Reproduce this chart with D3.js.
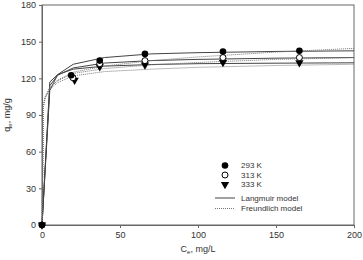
<!DOCTYPE html>
<html>
<head>
<meta charset="utf-8">
<script src="https://cdn.jsdelivr.net/npm/d3@7"></script>
<style>
  body { margin: 0; background: #fff; }
  text { font-family: Arial, "Liberation Sans", sans-serif; fill: #333; }
</style>
</head>
<body>
<script>
// measured points (Ce, qe)
var ce293 = [0, 18.7, 37, 66, 116, 165];
var qe293 = [0, 122.5, 134.5, 140, 142, 142.5];
var ce313 = [0, 19.8, 37, 66, 116, 165];
var qe313 = [0, 120.5, 132, 134.5, 137, 137];
var ce333 = [0, 20.9, 37, 66, 116, 165];
var qe333 = [0, 118.5, 129.5, 131, 133, 132.8];

// model lines
var ceLang = [0, 5, 10, 20, 40, 70, 100, 150, 200];
var lang293 = [0, 110, 123, 131.5, 137, 140, 141, 142, 142.5];
var lang313 = [0, 114, 122.5, 128.5, 132.5, 134.5, 135.5, 136.5, 137];
var lang333 = [0, 117, 123, 127.5, 130, 131.3, 132, 132.4, 132.7];

var ceFr = [0, 1, 2, 5, 10, 20, 40, 70, 100, 150, 200];
var fr293 = [0, 97, 104, 112, 118.5, 125, 130, 134.5, 137.5, 141.5, 144.5];
var fr313 = [0, 99, 105, 112.5, 118, 124, 128, 131, 133, 135.5, 137];
var fr333 = [0, 98, 104, 111, 116.5, 122, 125.5, 127.5, 129, 130.5, 131.5];

var xTicks = [0, 50, 100, 150, 200];
var yTicks = [0, 30, 60, 90, 120, 150, 180];

var margin = {top: 5, right: 9, bottom: 35, left: 42},
    width = 363 - margin.left - margin.right,
    height = 260 - margin.top - margin.bottom;

var x = d3.scaleLinear().domain([0, 200]).range([0, width]);
var y = d3.scaleLinear().domain([0, 180]).range([height, 0]);

var svg = d3.select("body").append("svg")
    .attr("width", 363)
    .attr("height", 260);
var g = svg.append("g")
    .attr("transform", "translate(" + margin.left + "," + margin.top + ")");

// frame
g.append("rect")
    .attr("width", width).attr("height", height)
    .attr("fill", "none").attr("stroke", "#666").attr("stroke-width", 1);

// axes
var xAxis = g.append("g")
    .attr("transform", "translate(0," + height + ")")
    .call(d3.axisBottom(x).tickValues(xTicks).tickSize(3).tickPadding(4));
var yAxis = g.append("g")
    .call(d3.axisLeft(y).tickValues(yTicks).tickSize(3).tickPadding(3));
[xAxis, yAxis].forEach(function (a) {
    a.select(".domain").attr("stroke", "#666");
    a.selectAll(".tick line").attr("stroke", "#666");
    a.selectAll("text").style("font-size", "9px").attr("fill", "#333");
});

// lines
var line = function (xs) {
    return d3.line()
        .x(function (d, i) { return x(xs[i]); })
        .y(function (d) { return y(d); });
};
[lang293, lang313, lang333].forEach(function (s) {
    g.append("path").datum(s)
        .attr("d", line(ceLang))
        .attr("fill", "none").attr("stroke", "#444").attr("stroke-width", 1);
});
[fr293, fr313, fr333].forEach(function (s) {
    g.append("path").datum(s)
        .attr("d", line(ceFr))
        .attr("fill", "none").attr("stroke", "#777").attr("stroke-width", 1)
        .attr("stroke-dasharray", "1,1");
});

// markers
var tri = d3.symbol().type(d3.symbolTriangle).size(30);
g.selectAll(".p333").data(qe333).enter().append("path")
    .attr("class", "p333")
    .attr("d", tri)
    .attr("transform", function (d, i) { return "translate(" + x(ce333[i]) + "," + y(d) + ") rotate(180)"; })
    .attr("fill", "#000");
g.selectAll(".p313").data(qe313).enter().append("circle")
    .attr("class", "p313")
    .attr("cx", function (d, i) { return x(ce313[i]); })
    .attr("cy", function (d) { return y(d); })
    .attr("r", 3).attr("fill", "#fff").attr("stroke", "#000").attr("stroke-width", 1);
g.selectAll(".p293").data(qe293).enter().append("circle")
    .attr("class", "p293")
    .attr("cx", function (d, i) { return x(ce293[i]); })
    .attr("cy", function (d) { return y(d); })
    .attr("r", 3.3).attr("fill", "#000");

// legend
var lg = svg.append("g").attr("transform", "translate(225,0)");
lg.append("circle").attr("cx", 0).attr("cy", 165.5).attr("r", 3.3).attr("fill", "#000");
lg.append("circle").attr("cx", 0).attr("cy", 175).attr("r", 3).attr("fill", "#fff").attr("stroke", "#000");
lg.append("path").attr("d", tri).attr("transform", "translate(0,184.5) rotate(180)").attr("fill", "#000");
lg.append("line").attr("x1", -10).attr("x2", 10).attr("y1", 198).attr("y2", 198)
    .attr("stroke", "#444");
lg.append("line").attr("x1", -10).attr("x2", 10).attr("y1", 208.5).attr("y2", 208.5)
    .attr("stroke", "#777").attr("stroke-dasharray", "1,1");
var labels = ["293 K", "313 K", "333 K", "Langmuir model", "Freundlich model"];
var ly = [165.5, 175, 184.5, 198, 208.5];
labels.forEach(function (t, i) {
    lg.append("text").attr("x", 16).attr("y", ly[i]).attr("dy", "0.35em")
        .style("font-size", "8px").text(t);
});

// axis titles
var xt = svg.append("text").attr("x", 198).attr("y", 252)
    .attr("text-anchor", "middle").style("font-size", "9px");
xt.append("tspan").text("C");
xt.append("tspan").attr("dy", 2).style("font-size", "6px").text("e");
xt.append("tspan").attr("dy", -2).text(", mg/L");

var yt = svg.append("text")
    .attr("transform", "translate(10,115) rotate(-90)")
    .attr("text-anchor", "middle").style("font-size", "9px");
yt.append("tspan").text("q");
yt.append("tspan").attr("dy", 2).style("font-size", "6px").text("e");
yt.append("tspan").attr("dy", -2).text(", mg/g");
</script>
</body>
</html>
